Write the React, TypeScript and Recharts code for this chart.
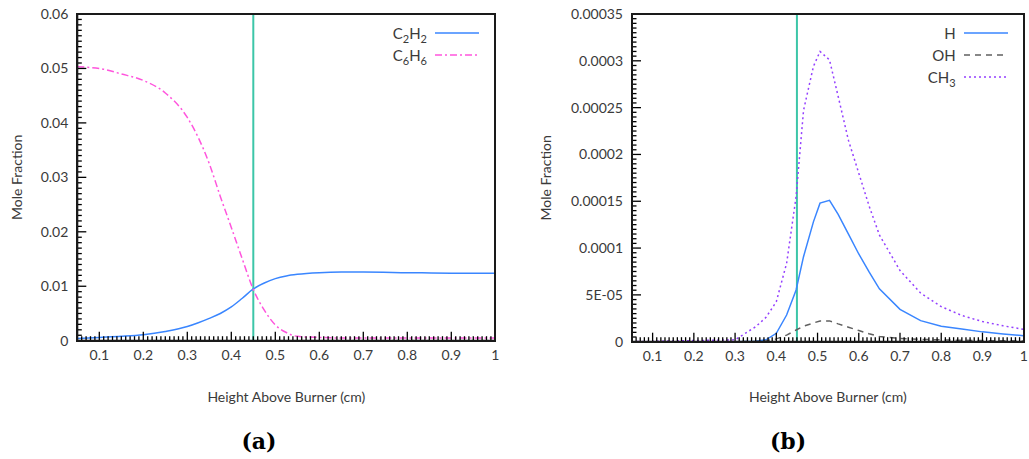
import React from "react";
import { LineChart, Line, XAxis, YAxis, ReferenceLine } from "recharts";

// ---- data (a) ----
const heightsA = [0.05, 0.1, 0.15, 0.2, 0.25, 0.3, 0.325, 0.35, 0.375, 0.4, 0.425, 0.45, 0.475, 0.5, 0.525, 0.55, 0.6, 0.65, 0.7, 0.8, 0.9, 1.0];
const c2h2 = [0.0004, 0.0006, 0.0008, 0.0011, 0.0017, 0.0026, 0.0033, 0.0041, 0.005, 0.0062, 0.0078, 0.0095, 0.0106, 0.0114, 0.0119, 0.0122, 0.0125, 0.0126, 0.0126, 0.0125, 0.0124, 0.0124];
const c6h6 = [0.0503, 0.05, 0.049, 0.0478, 0.0455, 0.0410, 0.0373, 0.0325, 0.0265, 0.0208, 0.015, 0.0094, 0.0056, 0.0029, 0.0015, 0.0008, 0.0006, 0.0005, 0.0005, 0.0005, 0.0005, 0.0005];

// ---- data (b) ----
const heightsB = [0.05, 0.3, 0.35, 0.375, 0.4, 0.425, 0.448, 0.466, 0.49, 0.506, 0.529, 0.55, 0.575, 0.6, 0.625, 0.65, 0.7, 0.75, 0.8, 0.85, 0.9, 0.95, 1.0];
const hAtom = [0, 0, 0.0000005, 0.000002, 0.000009, 0.0000285, 0.0000552, 0.0000908, 0.000128, 0.000148, 0.000151, 0.000136, 0.000115, 0.0000937, 0.0000745, 0.0000565, 0.0000345, 0.0000225, 0.0000166, 0.0000135, 0.0000105, 0.0000083, 0.0000064];
const ohRad = [0, 0, 0.0000003, 0.000001, 0.000003, 0.000007, 0.0000125, 0.0000165, 0.00002, 0.0000222, 0.0000222, 0.000019, 0.0000155, 0.000012, 0.0000085, 0.0000055, 0.0000035, 0.0000025, 0.000002, 0.0000015, 0.0000012, 0.000001, 0.0000008];
const ch3 = [0, 0.000002, 0.000016, 0.000026, 0.0000427, 0.0000837, 0.000155, 0.000247, 0.000294, 0.00031, 0.000301, 0.000262, 0.000215, 0.00018, 0.000145, 0.000114, 0.000076, 0.000052, 0.0000375, 0.000028, 0.0000215, 0.000017, 0.0000132];

// ---- ticks ----
const xLabels = ["0.1", "0.2", "0.3", "0.4", "0.5", "0.6", "0.7", "0.8", "0.9", "1"];
const yLabelsA = ["0", "0.01", "0.02", "0.03", "0.04", "0.05", "0.06"];
const yLabelsB = ["0", "5E-05", "0.0001", "0.00015", "0.0002", "0.00025", "0.0003", "0.00035"];

const seriesA = [
  { key: "c2h2", name: "C2H2", color: "#3a86ff", dash: undefined },
  { key: "c6h6", name: "C6H6", color: "#ff55dd", dash: "7 3 2 3" },
];
const seriesB = [
  { key: "h", name: "H", color: "#3a86ff", dash: undefined },
  { key: "oh", name: "OH", color: "#606060", dash: "6 5" },
  { key: "ch3", name: "CH3", color: "#9440ff", dash: "2 3" },
];

const rowsA = heightsA.map((x, i) => ({ x, c2h2: c2h2[i], c6h6: c6h6[i] }));
const rowsB = heightsB.map((x, i) => ({ x, h: hAtom[i], oh: ohRad[i], ch3: ch3[i] }));

const FONT = "Lato, 'Open Sans', sans-serif";
const INK = "#3a3a3a";
const MARKER = 0.45;

// minor ticks every 0.01 on x, majors every 0.1
const xTicks = Array.from({ length: 96 }, (_, i) => (i + 5) / 100);
const yTicksA = Array.from({ length: 61 }, (_, i) => i * 0.001);
const yTicksB = Array.from({ length: 71 }, (_, i) => i * 0.000005);

const XTick = (props: any) => {
  const { x, y, payload } = props;
  const n = Math.round(payload.value * 100);
  const major = n % 10 === 0;
  return (
    <g>
      <path d={`M${x},${y}V${y - (major ? 9 : 4.5)}`} stroke="#000" strokeWidth={1.3} fill="none" />
      {major && (
        <text x={x} y={y + 19} textAnchor="middle" fill={INK} stroke="none" fontSize={14} fontFamily={FONT}>
          {xLabels[n / 10 - 1]}
        </text>
      )}
    </g>
  );
};

const makeYTick = (step: number, labels: string[]) => (props: any) => {
  const { x, y, payload } = props;
  const n = Math.round(payload.value / step);
  const major = n % 10 === 0;
  return (
    <g>
      <path d={`M${x},${y}H${x + (major ? 9 : 4.5)}`} stroke="#000" strokeWidth={1.3} fill="none" />
      {major && (
        <text x={x - 9} y={y} dy="0.35em" textAnchor="end" fill={INK} stroke="none" fontSize={14} fontFamily={FONT}>
          {labels[n / 10]}
        </text>
      )}
    </g>
  );
};

const Formula = ({ s }: { s: string }) => (
  <span>
    {s.split(/(\d+)/).map((p, i) =>
      /\d/.test(p) ? (
        <span key={i} style={{ fontSize: 11, position: "relative", top: 4 }}>{p}</span>
      ) : (
        <span key={i}>{p}</span>
      )
    )}
  </span>
);

const LegendBox = ({ items, right }: { items: any[]; right: number }) => (
  <div style={{ position: "absolute", right, top: 22, fontFamily: FONT, fontSize: 15, color: INK }}>
    {items.map((it) => (
      <div key={it.key} style={{ display: "flex", alignItems: "center", justifyContent: "flex-end", height: 22 }}>
        <Formula s={it.name} />
        <svg width={44} height={10} style={{ marginLeft: 8 }}>
          <line x1={0} x2={44} y1={5} y2={5} stroke={it.color} strokeWidth={1.5} strokeDasharray={it.dash} />
        </svg>
      </div>
    ))}
  </div>
);

// frame drawn over plot area
const Frame = ({ left, top, width, height }: any) => (
  <div style={{ position: "absolute", left: left - 1, top: top - 1, width: width + 2, height: height + 2, boxSizing: "border-box", border: "2px solid #1a1a1a", pointerEvents: "none" }} />
);

const axisLine = { stroke: "#1a1a1a", strokeWidth: 2 };
const xLabel = { value: "Height Above Burner (cm)", position: "insideBottom", offset: 8, fill: INK, fontSize: 14, fontFamily: FONT };
const yLabel = (offset: number) => ({
  value: "Mole Fraction", angle: -90, position: "insideLeft", offset,
  fill: INK, fontSize: 14, fontFamily: FONT, style: { textAnchor: "middle" },
});

export default function App() {
  return (
    <div style={{ position: "absolute", left: 0, top: 0, width: 1029, height: 459, background: "#fff", overflow: "hidden" }}>
      <div style={{ position: "absolute", left: 0, top: 0 }}>
        <LineChart width={500} height={410} data={rowsA} margin={{ top: 14, right: 4.7, bottom: 0, left: 0 }}>
          <XAxis dataKey="x" type="number" domain={[0.05, 1]} allowDataOverflow ticks={xTicks} interval={0}
            tick={(p: any) => <XTick {...p} />} tickLine={false} tickSize={0} tickMargin={0}
            axisLine={axisLine} height={69.3} label={xLabel as any} />
          <YAxis type="number" domain={[0, 0.06]} allowDataOverflow ticks={yTicksA} interval={0}
            tick={makeYTick(0.001, yLabelsA)} tickLine={false} tickSize={0} tickMargin={0}
            axisLine={axisLine} width={77.3} label={yLabel(17) as any} />
          <ReferenceLine x={MARKER} stroke="#3cc6a8" strokeWidth={2} />
          {seriesA.map((s) => (
            <Line key={s.key} type="monotone" dataKey={s.key} stroke={s.color} strokeWidth={1.5}
              strokeDasharray={s.dash} dot={false} isAnimationActive={false} />
          ))}
        </LineChart>
      </div>
      <div style={{ position: "absolute", left: 528, top: 0 }}>
        <LineChart width={501} height={410} data={rowsB} margin={{ top: 14, right: 5.3, bottom: 0, left: 0 }}>
          <XAxis dataKey="x" type="number" domain={[0.05, 1]} allowDataOverflow ticks={xTicks} interval={0}
            tick={(p: any) => <XTick {...p} />} tickLine={false} tickSize={0} tickMargin={0}
            axisLine={axisLine} height={68.3} label={xLabel as any} />
          <YAxis type="number" domain={[0, 0.00035]} allowDataOverflow ticks={yTicksB} interval={0}
            tick={makeYTick(0.000005, yLabelsB)} tickLine={false} tickSize={0} tickMargin={0}
            axisLine={axisLine} width={104} label={yLabel(18) as any} />
          <ReferenceLine x={MARKER} stroke="#3cc6a8" strokeWidth={2} />
          {seriesB.map((s) => (
            <Line key={s.key} type="linear" dataKey={s.key} stroke={s.color} strokeWidth={1.5}
              strokeDasharray={s.dash} dot={false} isAnimationActive={false} />
          ))}
        </LineChart>
      </div>
      <Frame left={77.3} top={14} width={418} height={326.7} />
      <Frame left={632} top={14} width={391.7} height={327.7} />
      <LegendBox items={seriesA} right={550} />
      <LegendBox items={seriesB} right={21.3} />
      <div style={{ position: "absolute", left: 209, top: 426, width: 100, textAlign: "center", fontFamily: "'DejaVu Serif', serif", fontWeight: "bold", fontSize: 22, lineHeight: "30px", color: "#000" }}>(a)</div>
      <div style={{ position: "absolute", left: 738, top: 426, width: 100, textAlign: "center", fontFamily: "'DejaVu Serif', serif", fontWeight: "bold", fontSize: 22, lineHeight: "30px", color: "#000" }}>(b)</div>
    </div>
  );
}
